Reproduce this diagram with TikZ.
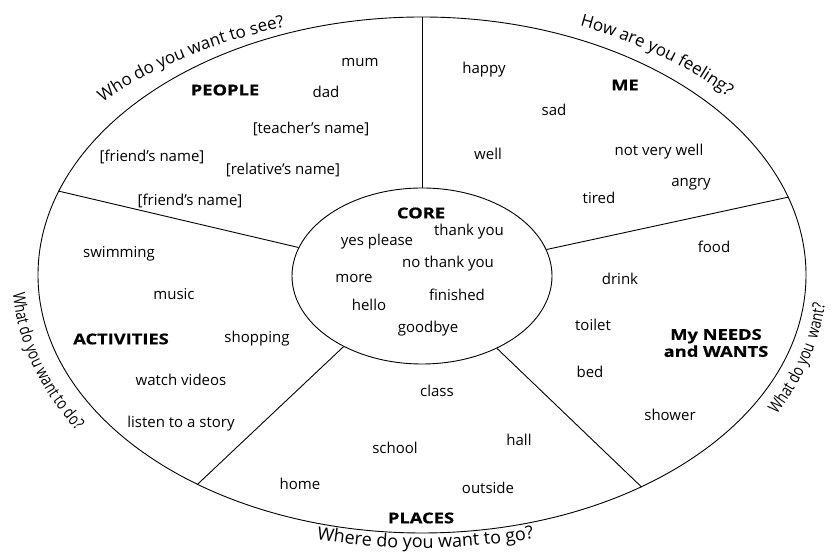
\documentclass[tikz,border=0pt]{standalone}
\usepackage{fontspec}
\setmainfont{Open Sans}
\newfontfamily\condfam[FakeStretch=0.78]{Open Sans}
\newfontfamily\hdfam[FakeStretch=1.22, BoldFeatures={FakeBold=0.5}]{Open Sans}
\usetikzlibrary{shapes.geometric,decorations.text}
\newcommand\lblfont{\fontsize{15}{18}\selectfont}
\newcommand\hdfont{\hdfam\fontsize{15}{17}\selectfont\bfseries}
\newcommand\qfont{\fontsize{17}{20}\selectfont}
\newcommand\qbfont{\fontsize{18}{20}\selectfont}
\newcommand\qcfont{\condfam\fontsize{17}{20}\selectfont}
\begin{document}
\begin{tikzpicture}[x=1pt,y=1pt,
  lbl/.style={font=\lblfont, inner sep=0pt, text height=11pt, text depth=3pt},
  hd/.style={font=\hdfont, inner sep=0pt, align=center},
  ring/.style={draw, line width=0.9pt, ellipse, inner sep=0pt},
  divider/.style={line width=0.9pt},
  qtext/.style={decorate, decoration={text along path, text align=center, text={#1}}}
]
\useasboundingbox (0,0) rectangle (832,553);

% ellipses
\node[ring, minimum width=768pt, minimum height=516pt] (outer) at (422,278) {};
\node[ring, minimum width=260pt, minimum height=176pt] (inner) at (422,277) {};

% dividers
\draw[divider] (outer.90) -- (inner.90);
\draw[divider] (outer.12.3) -- (inner.12.8);
\draw[divider] (outer.167.8) -- (inner.167.8);
\draw[divider] (outer.223.2) -- (inner.222.8);
\draw[divider] (outer.316.7) -- (inner.316.9);

% curved questions
\path[shift={(422,278)}, qtext={|\qfont|Who do you want to see?}]
  (150:425 and 262) arc[start angle=150, end angle=100, x radius=425, y radius=262];
\path[shift={(422,278)}, qtext={|\qfont|How are you feeling?}]
  (75:408 and 270) arc[start angle=75, end angle=32, x radius=408, y radius=270];
\path[shift={(422,278)}, qtext={|\qcfont|What do you {\ }want?}]
  (-40:405 and 289) arc[start angle=-40, end angle=7, x radius=405, y radius=289];
\path[shift={(422,278)}, qtext={|\qbfont|Where do you want to go?}]
  (245:420 and 273) arc[start angle=245, end angle=296, x radius=420, y radius=273];
\path[shift={(422,278)}, qtext={|\qcfont|What do you want to do?}]
  (175:410 and 289) arc[start angle=175, end angle=220, x radius=410, y radius=289];

% PEOPLE
\node[hd] (people) at (225,463) {PEOPLE};
\node[lbl] (mum) at (360,490) {mum};
\node[lbl] (dad) at (326,459) {dad};
\node[lbl] (teacher) at (311,423) {[teacher's name]};
\node[lbl] (friendA) at (152,395) {[friend's name]};
\node[lbl] (relative) at (283,382) {[relative's name]};
\node[lbl] (friendB) at (190,351) {[friend's name]};

% ME
\node[hd] (me) at (625,468) {ME};
\node[lbl] (happy) at (484,483) {happy};
\node[lbl] (sad) at (554,441) {sad};
\node[lbl] (well) at (488,397) {well};
\node[lbl] (notwell) at (659,401) {not very well};
\node[lbl] (angry) at (691,370) {angry};
\node[lbl] (tired) at (599,353) {tired};

% CORE
\node[hd] (core) at (421,340) {CORE};
\node[lbl] (thanks) at (469,321) {thank you};
\node[lbl] (yes) at (377,311) {yes please};
\node[lbl] (nothanks) at (448,289) {no thank you};
\node[lbl] (more) at (354,274) {more};
\node[lbl] (finished) at (457,256) {finished};
\node[lbl] (hello) at (369,246) {hello};
\node[lbl] (goodbye) at (428,224) {goodbye};

% NEEDS and WANTS
\node[lbl] (food) at (714,304) {food};
\node[lbl] (drink) at (620,272) {drink};
\node[lbl] (toilet) at (593,226) {toilet};
\node[hd] (needs) at (716,210) {My NEEDS\\and WANTS};
\node[lbl] (bed) at (590,179) {bed};
\node[lbl] (shower) at (670,136) {shower};

% ACTIVITIES
\node[lbl] (swimming) at (119,299) {swimming};
\node[lbl] (music) at (174,257) {music};
\node[hd] (activities) at (121,214) {ACTIVITIES};
\node[lbl] (shopping) at (257,214) {shopping};
\node[lbl] (videos) at (181,171) {watch videos};
\node[lbl] (story) at (181,129) {listen to a story};

% PLACES
\node[lbl] (class) at (437,160) {class};
\node[lbl] (school) at (395,103) {school};
\node[lbl] (hall) at (519,111) {hall};
\node[lbl] (home) at (300,67) {home};
\node[lbl] (outside) at (488,63) {outside};
\node[hd] (places) at (421,35) {PLACES};
\end{tikzpicture}
\end{document}
